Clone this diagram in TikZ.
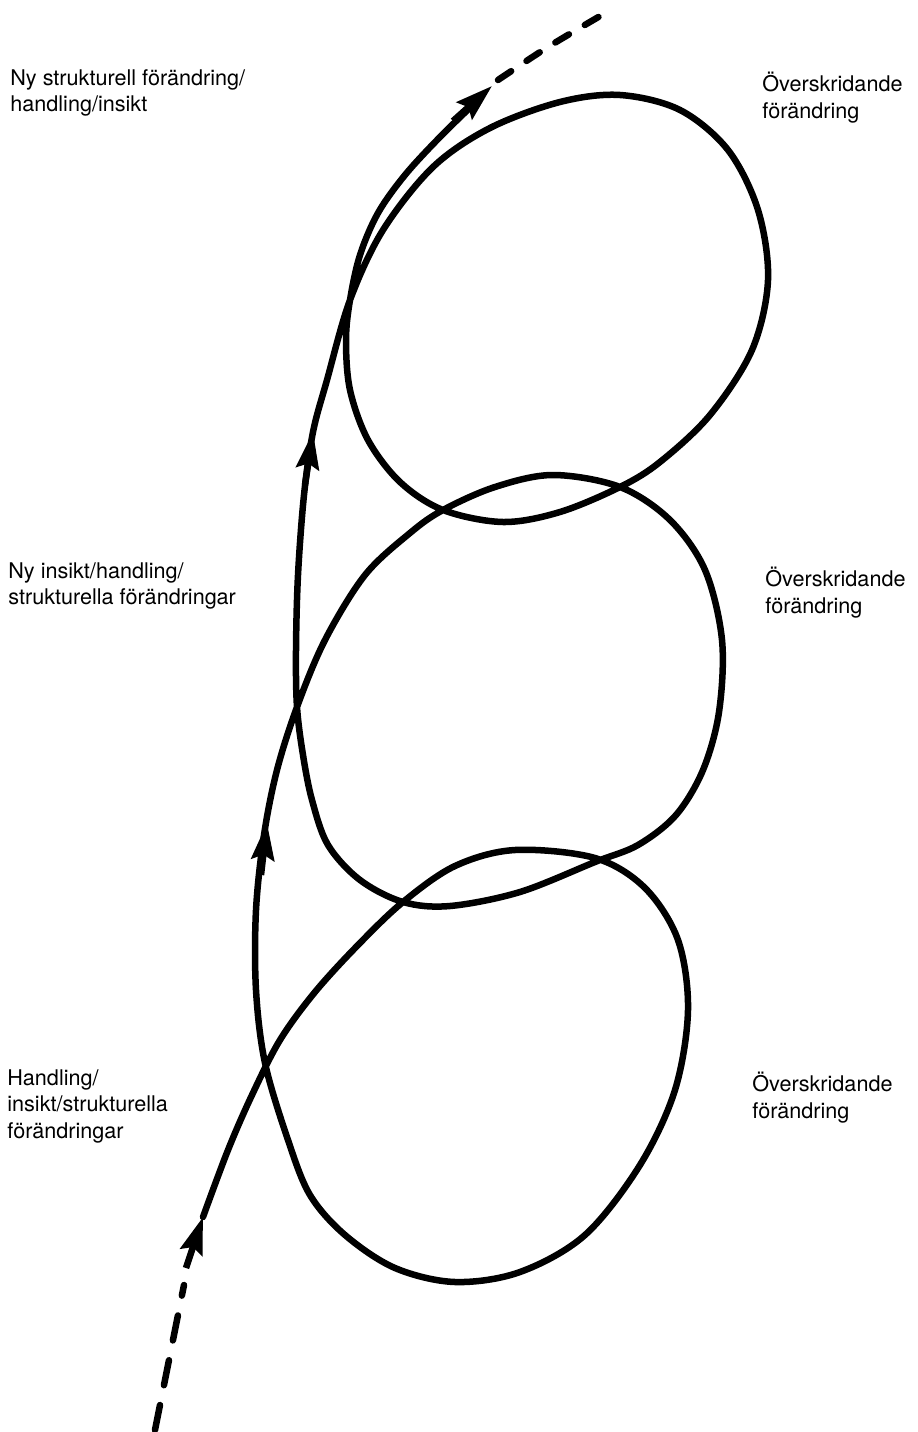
\documentclass[tikz,border=0pt]{standalone}
\usepackage{fontspec}
\setmainfont{TeX Gyre Heros}
\usetikzlibrary{arrows.meta}

\begin{document}
\begin{tikzpicture}[
    x=0.02cm, y=-0.02cm,
    every node/.style={font=\fontsize{12.3}{15.1}\selectfont},
    curve/.style={line width=3.7pt, line cap=round, line join=round},
    dashlow/.style={curve, dash pattern=on 14.5pt off 11.5pt},
    dashhigh/.style={curve, dash pattern=on 9pt off 10.5pt},
    tipmark/.style={line width=3.7pt, -{Stealth[length=21pt, width=13pt, inset=3pt]}},
    label/.style={anchor=north west, align=left, inner sep=0pt},
]
\useasboundingbox (0,0) rectangle (918,1432);

% ── Arrow points on the spiral ──
\coordinate (tipA) at (203,1217);  \coordinate (backA) at (186,1268);
\coordinate (tipB) at (267,823);   \coordinate (backB) at (261,875);
\coordinate (tipC) at (313,432);   \coordinate (backC) at (305,485);
\coordinate (tipD) at (492,86);    \coordinate (backD) at (453,121);

% ── Spiral (three loops) ──
\draw[curve] plot[smooth, tension=0.55] coordinates {
    (203,1217) (228,1150) (252,1095) (280,1040) (315,992) (358,945)
    (403,902) (455,866) (515,850) (595,858) (645,888) (678,940)
    (688,1010) (675,1090) (640,1165) (585,1235) (520,1272) (455,1282)
    (395,1268) (345,1235) (310,1195) (288,1140) (265,1063) (256,990)
    (256,910) (264,835) (277,770) (297,707) (325,640) (365,575)
    (410,533) (443,510) (495,487) (553,475) (620,487) (670,520)
    (705,570) (722,640) (719,712) (703,770) (676,815) (638,845)
    (595,862) (520,892) (450,906) (403,902) (360,880) (328,845)
    (312,800) (303,755) (297,707) (296,650) (298,575) (304,495)
    (313,432) (327,380) (350,300) (383,230) (433,167) (490,128)
    (560,102) (620,95) (680,110) (728,150) (758,210) (768,280)
    (752,350) (710,415) (660,462) (620,487) (560,512) (503,522)
    (443,510) (400,482) (368,440) (350,390) (346,340) (350,300)
    (360,255) (378,213) (405,175) (440,137) (478,100)
};

% ── Arrowheads ──
\draw[tipmark] (backA) -- (tipA);
\draw[tipmark] (backB) -- (tipB);
\draw[tipmark] (backC) -- (tipC);
\draw[tipmark] (backD) -- (tipD);

% ── Dashed ends ──
\draw[dashlow] (155,1430) -- (184,1285);
\draw[dashhigh] plot[smooth] coordinates {(498,80) (548,47) (607,12)};

% ── Labels, left ──
\node[label] (lbltop) at (10,69) {Ny strukturell förändring/\\handling/insikt};
\node[label] (lblmid) at (8,562) {Ny insikt/handling/\\strukturella förändringar};
\node[label] (lbllow) at (7,1069) {Handling/\\insikt/strukturella\\förändringar};

% ── Labels, right ──
\node[label] (ovtop) at (762,72) {Överskridande\\förändring};
\node[label] (ovmid) at (765,567) {Överskridande\\förändring};
\node[label] (ovlow) at (752,1072) {Överskridande\\förändring};

\end{tikzpicture}
\end{document}
